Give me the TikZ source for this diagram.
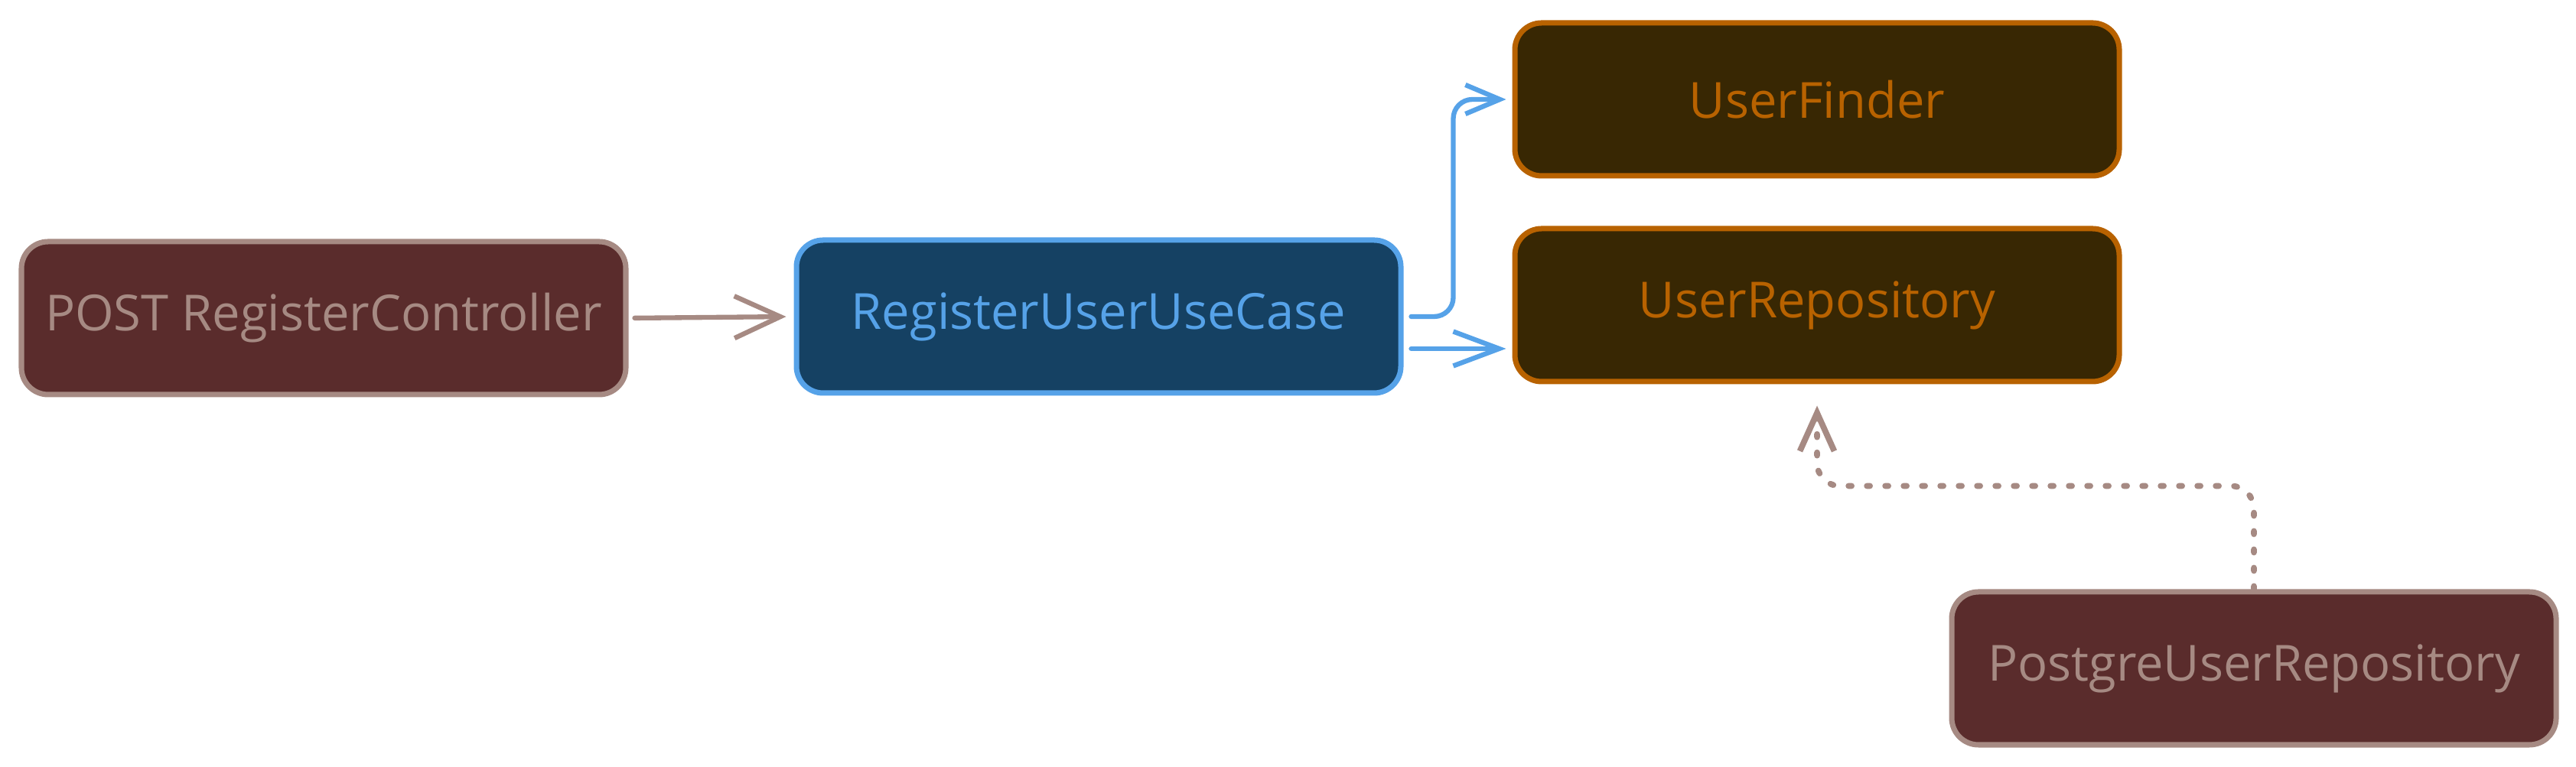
\documentclass[tikz,border=0pt]{standalone}
\usepackage{fontspec}
\setmainfont{Open Sans}
\usepackage{xcolor}
\usepackage{tikz}
\usetikzlibrary{arrows.meta, calc, positioning}

\definecolor{roseline}{HTML}{A68A83}
\definecolor{rosefill}{HTML}{5A2C2C}
\definecolor{blueline}{HTML}{56A2E8}
\definecolor{bluefill}{HTML}{154163}
\definecolor{orangeline}{HTML}{B86200}
\definecolor{orangefill}{HTML}{382703}

\begin{document}
\begin{tikzpicture}[
    box/.style={rounded corners=0.35cm, line width=2pt,
        minimum width=7.9cm, minimum height=2cm,
        font=\fontsize{18.5}{22}\selectfont},
    rosebox/.style={box, draw=roseline, fill=rosefill, text=roseline},
    bluebox/.style={box, draw=blueline, fill=bluefill, text=blueline},
    orangebox/.style={box, draw=orangeline, fill=orangefill, text=orangeline},
    link/.style={line width=1.8pt, line cap=round}]

    \useasboundingbox (0,0) rectangle (33.67,10.03);

    % 1. Các khối
    \node[rosebox] (controller) at (4.23,5.87) {POST RegisterController};
    \node[bluebox] (usecase) at (14.36,5.89) {RegisterUserUseCase};
    \node[orangebox] (finder) at (23.75,8.73) {UserFinder};
    \node[orangebox] (repo) at (23.75,6.04) {UserRepository};
    \node[rosebox] (postgre) at (29.46,1.29) {PostgreUserRepository};

    % 2. Controller -> UseCase
    \draw[link, roseline, -{Straight Barb[length=0.6cm, width=0.55cm]},
        shorten <=0.08cm, shorten >=0.1cm] (controller.east) -- (usecase.west);

    % 3. UseCase -> UserFinder, UserRepository
    \draw[link, blueline, rounded corners=0.25cm,
        -{Straight Barb[length=0.45cm, width=0.38cm]},
        shorten <=0.1cm, shorten >=0.08cm]
        (usecase.east) -- ++(0.65,0) |- (finder.west);
    \draw[link, blueline, -{Straight Barb[length=0.6cm, width=0.45cm]},
        shorten <=0.1cm, shorten >=0.08cm]
        ([yshift=-0.42cm]usecase.east) -- ([yshift=-0.42cm]usecase.east -| repo.west);

    % 4. PostgreUserRepository -> UserRepository (nét chấm)
    \draw[link, roseline, line width=2.2pt, dash pattern=on 0.04cm off 0.2cm,
        rounded corners=0.3cm,
        -{Straight Barb[length=0.5cm, width=0.45cm]}, shorten >=0.28cm]
        (postgre.north) -- ++(0,1.35) -| (repo.south);
\end{tikzpicture}
\end{document}
